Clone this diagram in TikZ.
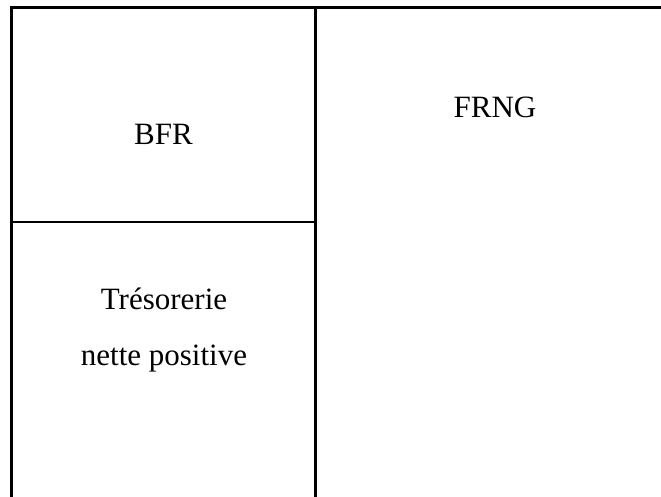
\documentclass[tikz,border=0pt]{standalone}
\usepackage{fontspec}
\setmainfont{Liberation Serif}
\begin{document}
\begin{tikzpicture}[x=1pt,y=1pt,
  rule/.style={line width=2.2pt, line cap=rect},
  lbl/.style={anchor=base, inner sep=0pt, font=\fontsize{31}{37}\selectfont}]
\useasboundingbox (0,0) rectangle (661,497);
\fill[white] (0,0) rectangle (661,497);
\coordinate (tl) at (11.5,489.5);
\coordinate (tr) at (663,489.5);
\coordinate (tm) at (315.5,489.5);
\coordinate (bl) at (11.5,-2);
\coordinate (bm) at (315.5,-2);
\coordinate (ml) at (11.5,275);
\coordinate (mm) at (315.5,275);
\draw[rule] (tr) -- (tl) -- (bl);
\draw[rule] (tm) -- (bm);
\draw[rule] (ml) -- (mm);
\node[lbl] (bfr) at (163.5,352) {BFR};
\node[lbl] (frng) at (495,379) {FRNG};
\node[lbl] (tres) at (164,187) {Trésorerie};
\node[lbl] (nette) at (164,131) {nette positive};
\end{tikzpicture}
\end{document}
